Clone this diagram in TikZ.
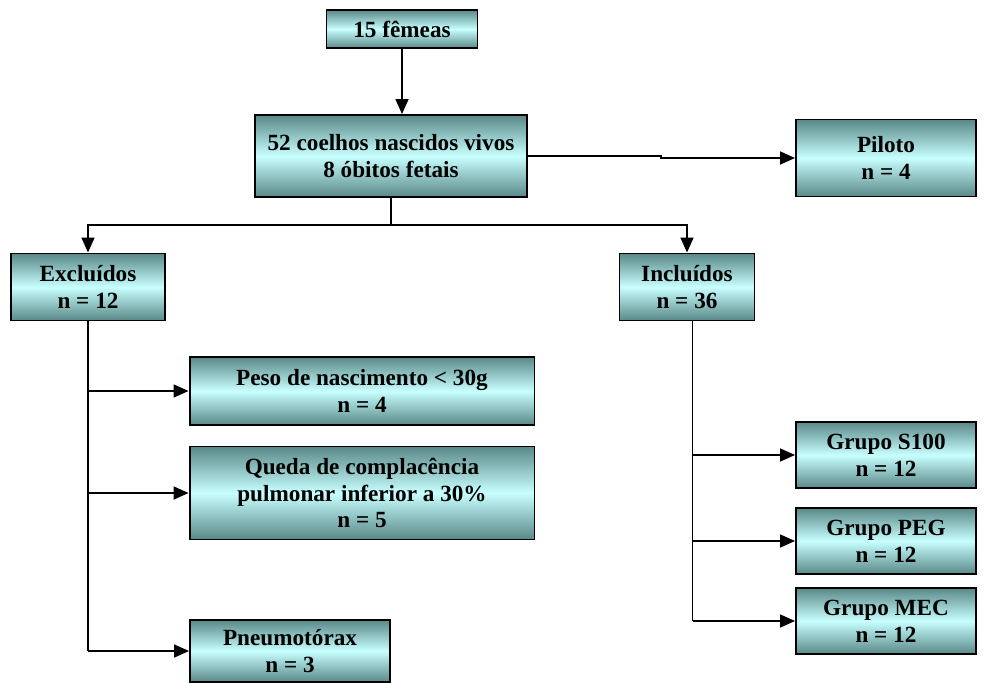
\documentclass[tikz,border=0pt]{standalone}
\usepackage{fontspec}
\setmainfont{Liberation Serif}
\usetikzlibrary{arrows.meta}
\definecolor{boxdark}{HTML}{5A8888}
\definecolor{boxlight}{HTML}{C8FFFF}
\tikzset{
  flow box/.style={draw=black,line width=1.1pt,top color=boxdark,bottom color=boxdark,middle color=boxlight,
    font=\fontsize{13.2}{15.3}\selectfont\bfseries,align=center,inner sep=0pt},
  flow line/.style={black,line width=.9pt},
  flow arrow/.style={flow line,-{Triangle[length=3mm,width=2.6mm]}}
}
\begin{document}
\begin{tikzpicture}[x=0.02cm,y=-0.02cm]
  \useasboundingbox (0,0) rectangle (991,683);
  \node[flow box,minimum width=3.02cm,minimum height=.76cm] (fem) at (402,29) {15 fêmeas};
  \node[flow box,minimum width=5.44cm,minimum height=1.64cm] (coelhos) at (391,156) {52 coelhos nascidos vivos\\8 óbitos fetais};
  \node[flow box,minimum width=3.6cm,minimum height=1.54cm] (piloto) at (886,158) {Piloto\\n = 4};
  \node[flow box,minimum width=3.08cm,minimum height=1.34cm] (excl) at (88,287) {Excluídos\\n = 12};
  \node[flow box,minimum width=2.7cm,minimum height=1.34cm] (incl) at (687,287) {Incluídos\\n = 36};
  \node[flow box,minimum width=6.9cm,minimum height=1.36cm] (peso) at (362,391) {Peso de nascimento < 30g\\n = 4};
  \node[flow box,minimum width=6.9cm,minimum height=1.86cm] (queda) at (362,493) {Queda de complacência\\pulmonar inferior a 30\%\\n = 5};
  \node[flow box,minimum width=4cm,minimum height=1.24cm] (pneumo) at (290,651) {Pneumotórax\\n = 3};
  \node[flow box,minimum width=3.6cm,minimum height=1.32cm] (s100) at (886,455) {Grupo S100\\n = 12};
  \node[flow box,minimum width=3.6cm,minimum height=1.32cm] (peg) at (886,541) {Grupo PEG\\n = 12};
  \node[flow box,minimum width=3.6cm,minimum height=1.32cm] (mec) at (886,621) {Grupo MEC\\n = 12};
  % connectors
  \draw[flow arrow] (fem.south) -- (fem.south |- coelhos.north);
  \draw[flow arrow] (coelhos.east) -- ++(133,0) |- (piloto.west);
  \coordinate (split) at (coelhos.south |- 0,225);
  \draw[flow line] (coelhos.south) -- (split);
  \draw[flow arrow] (split) -| (excl.north);
  \draw[flow arrow] (split) -| (incl.north);
  \draw[flow line] (excl.south) -- (excl.south |- pneumo.west);
  \foreach \t in {peso,queda,pneumo}
    \draw[flow arrow] (excl.south |- \t.west) -- (\t.west);
  \coordinate (itop) at ([xshift=.11cm]incl.south);
  \draw[flow line] (itop) -- (itop |- mec.west);
  \foreach \t in {s100,peg,mec}
    \draw[flow arrow] (itop |- \t.west) -- (\t.west);
\end{tikzpicture}
\end{document}
